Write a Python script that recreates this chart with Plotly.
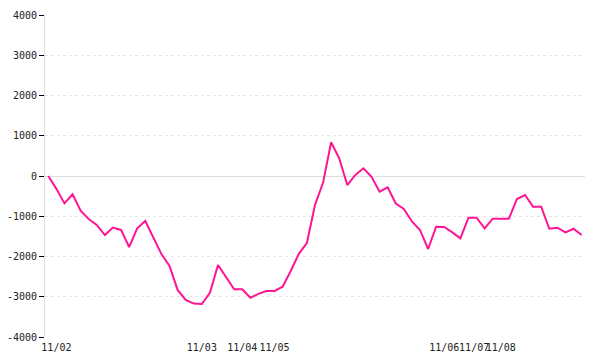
import plotly.graph_objects as go

# Data (one value per sample, in order)
values = [
    0, -320, -680, -455, -862, -1070, -1217, -1466, -1280, -1340,
    -1765, -1300, -1118, -1515, -1940, -2236, -2830, -3080, -3170, -3180,
    -2900, -2210, -2510, -2815, -2815, -3025, -2930, -2857, -2857, -2750,
    -2360, -1935, -1665, -720, -170, 837, 440, -224, 25, 191,
    -20, -390, -281, -683, -820, -1130, -1340, -1814, -1260, -1267,
    -1400, -1548, -1036, -1036, -1300, -1061, -1061, -1061, -571, -472,
    -763, -763, -1310, -1284, -1400, -1310, -1466,
]
x_index = list(range(len(values)))

date_labels = ["11/02", "11/03", "11/04", "11/05", "11/06", "11/07", "11/08"]
date_positions = [1, 19, 24, 28, 49, 52.7, 56]

y_ticks = [-4000, -3000, -2000, -1000, 0, 1000, 2000, 3000, 4000]
y_ticktext = [str(v) for v in y_ticks]

font_family = "DejaVu Sans Mono"

fig = go.Figure()
fig.add_trace(go.Scatter(
    x=x_index, y=values, mode="lines",
    line=dict(color="#ff1493", width=2),
    hoverinfo="skip", showlegend=False,
))

fig.update_layout(
    width=600, height=360,
    margin=dict(l=45, r=15, t=15, b=23),
    paper_bgcolor="white", plot_bgcolor="white",
    font=dict(family=font_family, size=10, color="#222"),
    showlegend=False,
)
fig.update_xaxes(
    range=[-0.41, 66.42],
    tickmode="array", tickvals=date_positions, ticktext=date_labels,
    showgrid=False, zeroline=False, showline=False,
    ticks="", tickangle=0, automargin=False, ticklabelstandoff=3,
    tickfont=dict(family=font_family, size=10, color="#222"),
)
fig.update_yaxes(
    range=[-4000, 4000], automargin=False,
    tickmode="array", tickvals=y_ticks, ticktext=y_ticktext,
    showgrid=True, gridcolor="#e6e6e6", griddash="dot", gridwidth=1,
    zeroline=True, zerolinecolor="#dddddd", zerolinewidth=1,
    showline=True, linecolor="#dddddd", linewidth=1,
    ticks="outside", ticklen=5, tickcolor="#000", tickwidth=1,
    tickfont=dict(family=font_family, size=10, color="#222"),
)

fig.write_html("out.html")
